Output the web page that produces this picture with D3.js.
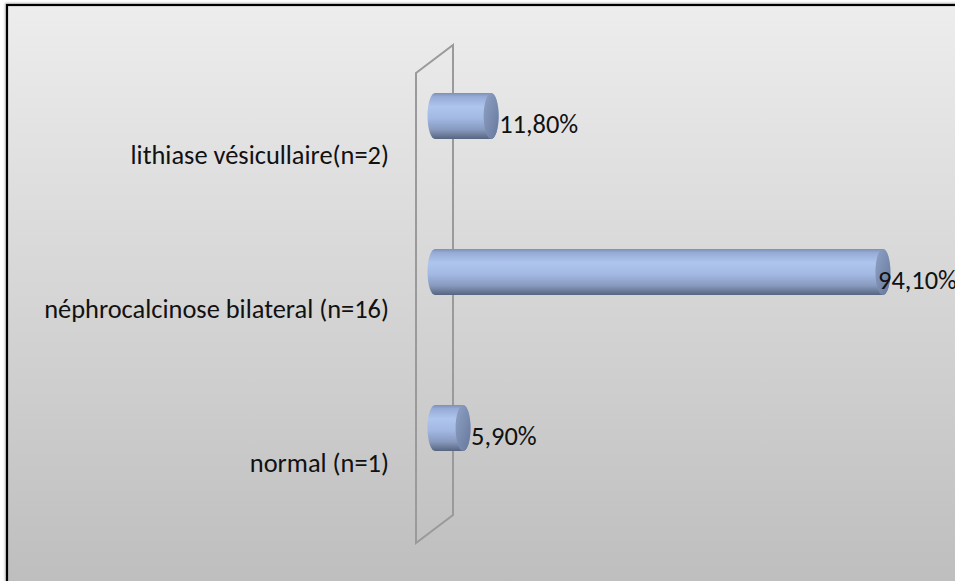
<!DOCTYPE html>
<html>
<head>
<meta charset="utf-8">
<script src="https://cdn.jsdelivr.net/npm/d3@7"></script>
<style>
  html, body { margin: 0; padding: 0; background: #ffffff; }
  svg { display: block; }
  text { font-family: Carlito, Calibri, Lato, "Liberation Sans", sans-serif; fill: #111; }
</style>
</head>
<body>
<svg id="chart" width="955" height="581"></svg>
<script>
// Categories listed top to bottom, with their percentage values
const categories = [
  "lithiase vésicullaire(n=2)",
  "néphrocalcinose bilateral (n=16)",
  "normal (n=1)"
];
const percentValues = [11.8, 94.1, 5.9];
const valueLabels = ["11,80%", "94,10%", "5,90%"];

const W = 955, H = 581;
const svg = d3.select("#chart");
const defs = svg.append("defs");

// Chart area background: light grey fading darker toward the bottom
const bg = defs.append("linearGradient").attr("id", "bgGrad")
  .attr("x1", 0).attr("y1", 0).attr("x2", 0).attr("y2", 1);
bg.append("stop").attr("offset", "0%").attr("stop-color", "#ededed");
bg.append("stop").attr("offset", "100%").attr("stop-color", "#bdbdbd");

// Cylinder body shading
const body = defs.append("linearGradient").attr("id", "cylBody")
  .attr("x1", 0).attr("y1", 0).attr("x2", 0).attr("y2", 1);
[["0%", "#7d90b4"], ["8%", "#96acd6"], ["30%", "#aec5ee"], ["55%", "#a3b9e3"],
 ["80%", "#8799bd"], ["100%", "#56647f"]]
  .forEach(([o, c]) => body.append("stop").attr("offset", o).attr("stop-color", c));

// Cylinder end cap shading
const cap = defs.append("linearGradient").attr("id", "cylCap")
  .attr("x1", 0).attr("y1", 0).attr("x2", 1).attr("y2", 1);
cap.append("stop").attr("offset", "0%").attr("stop-color", "#8fa2c6");
cap.append("stop").attr("offset", "100%").attr("stop-color", "#66779a");

// Drop shadow for the chart frame
const shadow = defs.append("filter").attr("id", "frameShadow")
  .attr("x", "-5%").attr("y", "-5%").attr("width", "110%").attr("height", "110%");
shadow.append("feDropShadow").attr("dx", -1).attr("dy", -1)
  .attr("stdDeviation", 1.2).attr("flood-color", "#000").attr("flood-opacity", 0.25);

svg.append("rect")
  .attr("x", 7).attr("y", 5).attr("width", W + 10).attr("height", H + 10)
  .attr("fill", "url(#bgGrad)")
  .attr("stroke", "#000").attr("stroke-width", 2.2)
  .attr("filter", "url(#frameShadow)");

// Scales
const x = d3.scaleLinear().domain([0, 100]).range([435, 911]);
const y = d3.scalePoint().domain(categories).range([116, 428]);
const yLabel = d3.scalePoint().domain(categories).range([164, 472]);
const rx = 7.5, ry = 23;

// Vertical wall of the 3D plot (thin parallelogram around the value axis)
const x0 = x(0);
const wall = [
  [x0 - 19, 73], [x0 + 18, 45], [x0 + 18, 515], [x0 - 19, 543]
];
svg.append("path")
  .attr("d", d3.line()(wall) + "Z")
  .attr("fill", "none")
  .attr("stroke", "#9a9a9a")
  .attr("stroke-width", 2);

// Category labels
const fontSize = 22.5;
const catText = svg.append("g").selectAll("text")
  .data(categories).join("text")
  .attr("x", 389)
  .attr("y", d => yLabel(d))
  .attr("text-anchor", "end")
  .attr("font-size", fontSize)
  .text(d => d);

// Cylinders
const bars = svg.append("g").selectAll("g")
  .data(categories.map((c, i) => ({ c, v: percentValues[i], label: valueLabels[i] })))
  .join("g");

bars.append("path")
  .attr("d", d => {
    const cx0 = x(0), cx1 = x(d.v), top = y(d.c) - ry, bot = y(d.c) + ry;
    return `M${cx0},${top} L${cx1},${top} A${rx},${ry} 0 0 1 ${cx1},${bot} ` +
           `L${cx0},${bot} A${rx},${ry} 0 0 1 ${cx0},${top} Z`;
  })
  .attr("fill", "url(#cylBody)");

bars.append("ellipse")
  .attr("cx", d => x(d.v))
  .attr("cy", d => y(d.c))
  .attr("rx", rx).attr("ry", ry)
  .attr("fill", "url(#cylCap)");

// Value labels at the end of each cylinder
bars.append("text")
  .attr("x", d => Math.min(x(d.v) + 8, 878))
  .attr("y", d => y(d.c) + 16.5)
  .attr("font-size", fontSize)
  .text(d => d.label);

// Keep text widths close to the intended layout whatever font resolves
const target = 345;
const widest = d3.max(catText.nodes(), n => n.getComputedTextLength());
if (widest > 0) {
  const k = target / widest;
  svg.selectAll("text").attr("font-size", fontSize * k);
}
</script>
</body>
</html>
